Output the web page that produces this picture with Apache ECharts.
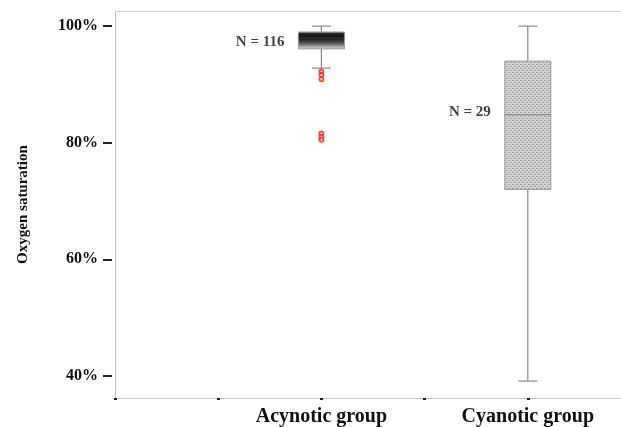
<!DOCTYPE html>
<html><head><meta charset="utf-8">
<script src="https://cdn.jsdelivr.net/npm/echarts@6/dist/echarts.min.js"></script>
<style>html,body{margin:0;padding:0;background:#fff}#c{width:621px;height:427px}</style>
</head><body><div id="c"></div>
<script>
// ---- data ----
const categories = ['t0', 't1', 'Acynotic group', 't3', 'Cyanotic group', 't5'];
const groupNames = ['Acynotic group', 'Cyanotic group'];
const groupIndex = [2, 4];
// [min, Q1, median, Q3, max]
const boxStats = [
  [92.8, 96.1, 98.0, 99.0, 100.0],
  [39.1, 72.0, 84.8, 94.0, 100.0]
];
const outlierValues = [92.2, 91.6, 90.9, 81.6, 81.0, 80.5];
const groupN = ['N = 116', 'N = 29'];
const nLabelY = [97.3, 85.3];
const yTicks = [40, 60, 80, 100];

// dotted pattern for cyanotic box
const pc = document.createElement('canvas');
pc.width = 4; pc.height = 4;
const pctx = pc.getContext('2d');
pctx.fillStyle = '#cfcfcf'; pctx.fillRect(0,0,4,4);
pctx.fillStyle = '#a0a0a0';
pctx.fillRect(0,0,2,1); pctx.fillRect(2,2,2,1);
pctx.fillStyle = '#e6e6e6';
pctx.fillRect(1,1,1,1); pctx.fillRect(3,3,1,1);

const boxFills = [
  new echarts.graphic.LinearGradient(0,0,0,1,[
    {offset:0,color:'#9a9a9a'},{offset:0.12,color:'#222'},{offset:0.35,color:'#111'},
    {offset:0.65,color:'#555'},{offset:0.9,color:'#bbb'},{offset:1,color:'#e0e0e0'}]),
  {image: pc, repeat: 'repeat'}
];

const boxData = boxStats.map((s, i) => [groupIndex[i]].concat(s).concat([i]));
const outlierData = outlierValues.map(v => [2, v]);
const nData = groupN.map((t, i) => ({value: [groupIndex[i], nLabelY[i]], name: t}));

const chart = echarts.init(document.getElementById('c'), null, {renderer: 'canvas'});
const serif = '"Liberation Serif","DejaVu Serif",serif';
chart.setOption({
  animation: false,
  grid: {left: 115, top: 11, width: 516, bottom: 29, outerBoundsMode: 'none', containLabel: false},
  xAxis: [{
    type: 'category', data: categories, boundaryGap: false,
    axisLine: {lineStyle: {color: '#c8c8c8', width: 1}},
    axisTick: {show: true, length: 2, alignWithLabel: true, lineStyle: {color: '#222', width: 3}},
    axisLabel: {interval: 0, margin: 9, color: '#111', fontFamily: serif, fontWeight: 'bold', fontSize: 20,
      formatter: v => groupNames.includes(v) ? v : ''},
    splitLine: {show: false}
  }, {
    type: 'category', data: categories, boundaryGap: false, position: 'top',
    axisLine: {lineStyle: {color: '#d0d0d0'}}, axisTick: {show: false}, axisLabel: {show: false}
  }],
  yAxis: [{
    type: 'value', min: 36.2, max: 102.6,
    axisLine: {show: true, lineStyle: {color: '#c0c0c0'}},
    axisTick: {show: false}, axisLabel: {show: false}, splitLine: {show: false}
  }, {
    type: 'value', min: 36.2, max: 102.6, position: 'left', offset: 3,
    name: 'Oxygen saturation', nameLocation: 'middle', nameRotate: 90, nameGap: 81,
    nameTextStyle: {fontFamily: serif, fontWeight: 'bold', fontSize: 15, color: '#111'},
    axisLine: {show: false},
    axisTick: {show: true, length: 9, customValues: yTicks, lineStyle: {color: '#222', width: 2}},
    axisLabel: {customValues: yTicks, formatter: '{value}%', margin: 14, color: '#111',
      fontFamily: serif, fontWeight: 'bold', fontSize: 16},
    splitLine: {show: false}
  }],
  series: [{
    type: 'custom', xAxisIndex: 0, yAxisIndex: 0,
    data: boxData,
    renderItem: function (params, api) {
      const x = api.value(0);
      const mn = api.coord([x, api.value(1)]);
      const q1 = api.coord([x, api.value(2)]);
      const md = api.coord([x, api.value(3)]);
      const q3 = api.coord([x, api.value(4)]);
      const mx = api.coord([x, api.value(5)]);
      const gi = api.value(6);
      const bw = 46, cw = 19, cx = mn[0];
      const ls = {stroke: '#8a8a8a', lineWidth: 1.2};
      return {type: 'group', children: [
        {type: 'line', shape: {x1: cx, y1: mx[1], x2: cx, y2: q3[1]}, style: ls},
        {type: 'line', shape: {x1: cx, y1: q1[1], x2: cx, y2: mn[1]}, style: ls},
        {type: 'line', shape: {x1: cx - cw/2, y1: mx[1], x2: cx + cw/2, y2: mx[1]}, style: ls},
        {type: 'line', shape: {x1: cx - cw/2, y1: mn[1], x2: cx + cw/2, y2: mn[1]}, style: ls},
        {type: 'rect', shape: {x: cx - bw/2, y: q3[1], width: bw, height: q1[1] - q3[1]},
          style: {fill: boxFills[gi], stroke: '#999', lineWidth: 1}},
        {type: 'line', shape: {x1: cx - bw/2, y1: md[1], x2: cx + bw/2, y2: md[1]},
          style: {stroke: gi === 0 ? '#333' : '#7a7a7a', lineWidth: 1.2}}
      ]};
    }
  }, {
    type: 'scatter', xAxisIndex: 0, yAxisIndex: 0, data: outlierData,
    symbol: 'emptyCircle', symbolSize: 4,
    itemStyle: {color: '#ff2020', borderColor: '#ff2020', borderWidth: 1.4}
  }, {
    type: 'scatter', xAxisIndex: 0, yAxisIndex: 0, data: nData, symbolSize: 0,
    label: {show: true, position: 'left', distance: 37, formatter: p => p.name,
      fontFamily: serif, fontWeight: 'bold', fontSize: 15, color: '#111'}
  }]
});
</script></body></html>
